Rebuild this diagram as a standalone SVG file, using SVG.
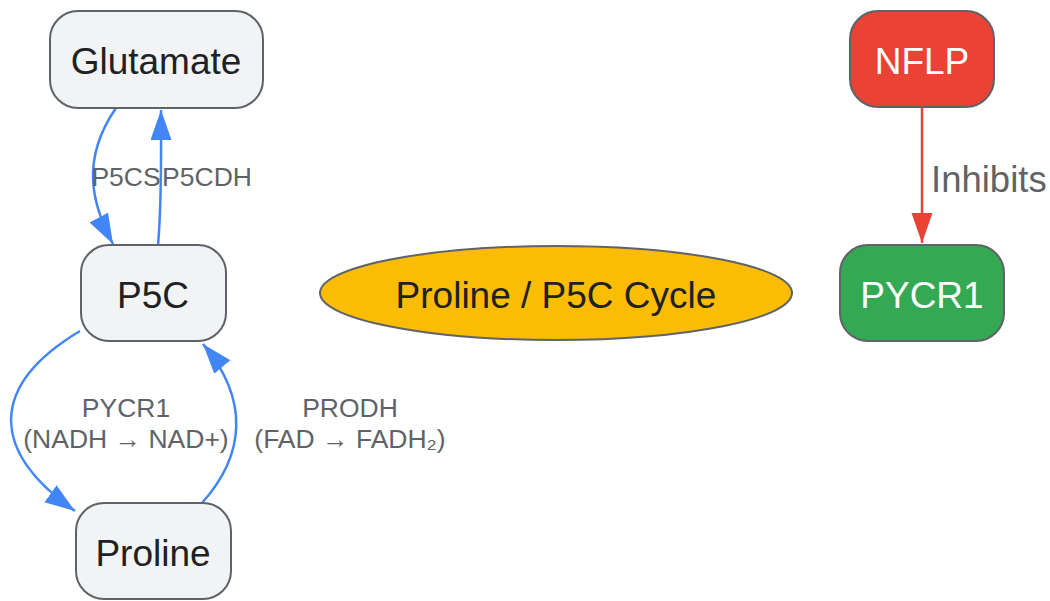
<svg xmlns="http://www.w3.org/2000/svg" width="1050" height="601" viewBox="0 0 1050 601">
<style>
.node rect{fill:#f1f3f4;stroke:#5f6368;stroke-width:2}
.nt{font-family:"Liberation Sans",Arial,sans-serif;font-size:37px;fill:#202124;text-anchor:middle}
.wt{fill:#ffffff}
.edge{fill:none;stroke:#4285f4;stroke-width:2.5}
.lbl{font-family:"Liberation Sans",Arial,sans-serif;font-size:26.5px;fill:#5f6368;text-anchor:middle}
</style>
<defs>
<marker id="ab" markerUnits="userSpaceOnUse" markerWidth="32" markerHeight="22" refX="30" refY="10.5" orient="auto" viewBox="0 0 32 22">
<path d="M0,0 L30,10.5 L0,21 z" fill="#4285f4"/>
</marker>
<marker id="ar" markerUnits="userSpaceOnUse" markerWidth="32" markerHeight="22" refX="30" refY="10.5" orient="auto" viewBox="0 0 32 22">
<path d="M0,0 L30,10.5 L0,21 z" fill="#ea4335"/>
</marker>
</defs>
<g id="connectors">
<path class="edge" d="M116,108 C80,160 92,205 113,244" marker-end="url(#ab)"/>
<path class="edge" d="M158,245 C162,200 161,150 161,110" marker-end="url(#ab)"/>
<path class="edge" d="M80,331 C-10,385 -12,450 75,511" marker-end="url(#ab)"/>
<path class="edge" d="M202,503 C245,455 250,400 203,344" marker-end="url(#ab)"/>
<path d="M922,108 L922,243" fill="none" stroke="#ea4335" stroke-width="2.5" marker-end="url(#ar)"/>
<text class="lbl" x="126" y="186">P5CS</text>
<text class="lbl" x="207" y="186">P5CDH</text>
<text class="lbl" x="126" y="417">PYCR1</text>
<text class="lbl" x="126" y="448">(NADH → NAD+)</text>
<text class="lbl" x="350" y="417">PRODH</text>
<text class="lbl" x="350" y="448">(FAD → FADH₂)</text>
<text x="931" y="192" font-family="Liberation Sans,Arial,sans-serif" font-size="36.5" fill="#5f6368">Inhibits</text>
</g>
<g id="glutamate" class="node"><rect x="50" y="11" width="213" height="97" rx="28"/><text class="nt" x="156" y="74">Glutamate</text></g>
<g id="p5c" class="node"><rect x="81" y="245" width="145" height="96" rx="28"/><text class="nt" x="153" y="308">P5C</text></g>
<g id="proline" class="node"><rect x="76" y="503" width="155" height="96" rx="28"/><text class="nt" x="153" y="566">Proline</text></g>
<g id="cycle"><ellipse cx="556" cy="293" rx="236" ry="47" fill="#fbbc04" stroke="#5f6368" stroke-width="2"/><text class="nt" x="556" y="308">Proline / P5C Cycle</text></g>
<g id="nflp"><rect x="850" y="11" width="144" height="96" rx="28" fill="#ea4335" stroke="#5f6368" stroke-width="2"/><text class="nt wt" x="922" y="74">NFLP</text></g>
<g id="pycr1"><rect x="840" y="245" width="164" height="96" rx="28" fill="#34a853" stroke="#5f6368" stroke-width="2"/><text class="nt wt" x="922" y="308">PYCR1</text></g>
</svg>
